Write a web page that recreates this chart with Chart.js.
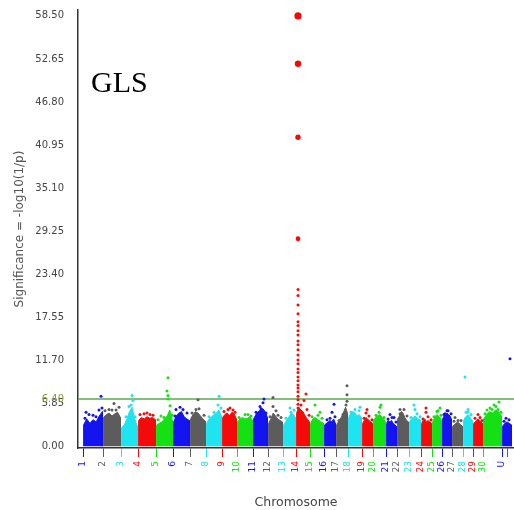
<!DOCTYPE html>
<html>
<head>
<meta charset="utf-8">
<script src="https://cdn.jsdelivr.net/npm/chart.js@4.4.0/dist/chart.umd.min.js"></script>
<style>
  html, body { margin: 0; padding: 0; background: #fff; }
  canvas { display: block; }
</style>
</head>
<body>
<canvas id="manhattan" width="514" height="510"></canvas>
<script>
// chromosomes and where each one starts on the genome axis (plot units)
const chromLabels = ['1','2','3','4','5','6','7','8','9','10','11','12','13','14','15','16','17','18','19','20',
                     '21','22','23','24','25','26','27','28','29','30','U',''];
const chromStart = [5, 25, 43, 60, 78, 95, 112, 128, 144, 159, 175, 190, 205, 218, 232, 246, 258, 270, 284, 295,
                    308, 319, 331, 343, 354, 364, 374, 385, 395, 405, 424, 429];
const genomeEnd = 436;
const chromEnd = 434;

// upper edge of the dense SNP cloud, left to right, for every chromosome (-log10 p)
const cloudTop = [
  [2.9, 3.7, 3.1, 3.6, 3.3, 4.1, 4.7],
  [3.9, 4.3, 4.5, 4.1, 4.4, 4.6, 3.9],
  [2.5, 2.9, 3.7, 4.7, 5.3, 3.7, 2.7],
  [3.5, 3.9, 3.7, 4.0, 3.8, 3.9, 3.6],
  [2.9, 3.1, 3.3, 3.7, 4.1, 4.9, 3.5],
  [3.3, 4.1, 4.5, 4.7, 4.0, 3.7, 3.5],
  [3.7, 4.3, 4.7, 4.5, 4.1, 3.7, 3.4],
  [3.1, 3.7, 4.0, 4.3, 4.5, 4.9, 4.1],
  [3.9, 4.3, 4.5, 4.1, 4.6, 4.4, 3.7],
  [3.3, 3.7, 3.9, 3.7, 3.8, 4.0, 3.5],
  [3.7, 4.3, 4.7, 4.9, 5.1, 4.7, 3.9],
  [3.1, 3.7, 4.5, 4.1, 3.7, 3.5, 3.3],
  [2.9, 3.3, 3.7, 4.1, 4.5, 4.3, 3.9],
  [4.5, 5.3, 4.9, 4.7, 4.1, 3.7, 3.3],
  [3.1, 3.7, 3.9, 3.7, 3.5, 3.3, 3.1],
  [2.9, 3.1, 3.3, 3.5, 3.3, 3.7, 3.1],
  [2.9, 3.3, 3.7, 4.1, 4.7, 5.3, 4.5],
  [3.9, 4.5, 4.7, 4.5, 4.1, 4.3, 3.9],
  [3.1, 3.5, 3.9, 3.7, 3.5, 3.3, 3.1],
  [3.5, 3.9, 4.1, 4.3, 4.1, 3.7, 3.3],
  [3.1, 3.5, 3.3, 3.5, 3.1, 2.9, 2.7],
  [3.7, 4.1, 4.7, 4.5, 3.9, 3.5, 3.3],
  [3.3, 3.7, 3.9, 4.1, 3.9, 3.7, 3.5],
  [3.1, 3.5, 3.7, 3.3, 3.5, 3.3, 3.1],
  [3.3, 3.7, 4.1, 4.3, 4.1, 3.9, 3.5],
  [3.7, 4.1, 4.3, 4.5, 4.3, 4.1, 3.7],
  [2.7, 2.9, 3.1, 3.3, 3.1, 2.9, 2.7],
  [3.5, 3.9, 4.1, 4.3, 4.1, 3.7, 3.5],
  [3.1, 3.3, 3.5, 3.7, 3.5, 3.3, 3.1],
  [3.7, 4.3, 4.7, 4.5, 4.9, 4.7, 4.1],
  [2.7, 3.1, 3.3, 3.1, 2.9]
];

// single SNPs standing above the cloud
const hitPos = [8, 15, 23, 36, 34, 54, 55, 53, 66, 72,
  90, 89, 90, 90, 83, 92, 98, 102, 120, 118, 141, 140, 150, 155, 167,
  186, 185, 182, 195, 195, 198, 212,
  220, 220, 220, 220, 220, 220, 220, 220, 220, 220, 220, 220, 220, 220, 220,
  220, 220, 220, 220, 220, 220, 220, 220, 220, 220, 220, 220, 220, 220,
  228, 226, 237, 242, 256, 254, 269, 269, 269, 282, 289, 288, 302, 303, 312, 316, 322,
  337, 336, 348, 348, 360, 362, 370, 367, 377, 380, 387, 390, 388, 400,
  421, 418, 412, 409, 432, 428,
  7, 11, 18, 21, 24, 27, 31, 38, 41, 48, 51, 57, 62, 69, 75, 80, 86, 94,
  97, 105, 109, 114, 121, 126, 131, 136, 143, 146, 152, 157, 161, 170, 173,
  178, 183, 188, 192, 200, 203, 208, 213, 216, 223, 229, 231, 234, 240, 244,
  249, 252, 257, 261, 265, 268, 273, 277, 281, 286, 291, 294, 298, 301, 306,
  310, 314, 318, 322, 326, 329, 333, 339, 342, 345, 350, 353, 356, 359, 363,
  366, 369, 373, 376, 383, 390, 393, 397, 402, 404, 407, 414, 416, 420, 423, 426, 431];
const hitVal = [4.6, 4.2, 6.8, 5.8, 4.9, 6.9, 6.2, 5.6, 4.4, 4.3,
  9.3, 7.5, 6.9, 6.4, 4.1, 5.5, 5.0, 5.3, 6.3, 5.0, 6.8, 5.6, 5.0, 4.9, 4.3,
  6.4, 5.9, 5.4, 6.6, 5.4, 4.8, 5.2,
  58.5, 52.0, 42.0, 28.2, 21.3, 20.5, 19.2, 18.0, 16.9, 16.4, 15.7, 15.1, 14.3, 13.8, 13.1,
  12.4, 11.7, 11.2, 10.5, 10.0, 9.4, 8.9, 8.3, 7.9, 7.4, 6.8, 6.3, 5.7, 5.2,
  7.1, 6.2, 5.6, 4.6, 5.7, 4.6, 8.2, 7.0, 6.1, 5.3, 5.0, 4.5, 5.3, 5.6, 4.3, 3.9, 5.0,
  5.0, 5.6, 5.2, 4.6, 4.8, 5.2, 4.8, 4.4, 3.9, 3.5, 9.4, 5.0, 4.6, 4.3,
  6.0, 5.4, 5.2, 4.9, 11.9, 3.8,
  3.8, 4.3, 4.0, 4.9, 5.2, 4.8, 5.0, 4.9, 5.3, 4.0, 5.4, 4.0, 4.3, 4.5, 4.2, 3.6, 3.9, 4.2,
  4.1, 5.0, 4.5, 4.5, 5.1, 4.2, 4.0, 4.6, 5.2, 4.7, 5.2, 4.6, 3.9, 4.3, 4.1,
  4.6, 5.1, 4.5, 4.0, 4.2, 3.9, 3.8, 4.6, 4.9, 5.6, 5.0, 4.2, 4.0, 4.2, 3.8,
  3.6, 3.8, 4.0, 3.5, 4.3, 5.6, 4.6, 5.0, 4.8, 3.8, 4.1, 3.6, 4.2, 4.6, 3.9,
  3.7, 3.9, 3.3, 4.4, 5.0, 4.1, 3.9, 4.4, 4.0, 3.7, 4.0, 3.6, 4.0, 4.7, 4.2,
  4.3, 4.8, 4.4, 3.4, 3.5, 4.6, 4.3, 3.8, 3.9, 3.5, 4.4, 5.0, 5.6, 5.0, 4.6, 3.4, 3.6];

const thresholdVal = 6.40;
const yTickVals = [0.00, 5.85, 11.70, 17.55, 23.40, 29.25, 35.10, 40.95, 46.80, 52.65, 58.50];

// kleuren per chromosoom, herhalen elke 5
const palette = ['#1414f0', '#5c5c5c', '#1ee4f0', '#f50a0a', '#14e014'];

function chromOf(pos) {
  let k = 0;
  for (let i = 0; i < cloudTop.length; i++) if (pos >= chromStart[i]) k = i;
  return k;
}

// one filled silhouette per chromosome
const cloudSets = cloudTop.map(function(top, i) {
  const s = chromStart[i] + 0.6;
  const e = (i + 1 < cloudTop.length ? chromStart[i + 1] : chromEnd) - 0.6;
  const step = (e - s) / (top.length - 1);
  const pts = [{x: s, y: 0}];
  top.forEach(function(v, k) { pts.push({x: s + k * step, y: v}); });
  pts.push({x: e, y: 0});
  return {
    data: pts,
    showLine: true,
    fill: 'origin',
    backgroundColor: palette[i % 5],
    borderColor: palette[i % 5],
    borderWidth: 1,
    pointRadius: 0,
    order: 2
  };
});

const hitColors = hitPos.map(p => palette[chromOf(p) % 5]);

const gls = {
  id: 'glsLabel',
  afterDraw(chart) {
    const ctx = chart.ctx;
    ctx.save();
    ctx.font = '30px "Liberation Serif"';
    ctx.fillStyle = '#000';
    ctx.textBaseline = 'alphabetic';
    ctx.fillText('GLS', 91, 92);
    ctx.restore();
  }
};

Chart.defaults.font.family = '"DejaVu Sans", sans-serif';

new Chart(document.getElementById('manhattan').getContext('2d'), {
  type: 'scatter',
  data: {
    datasets: [
      {
        data: hitPos.map((p, i) => ({x: p, y: hitVal[i]})),
        backgroundColor: hitColors,
        borderColor: hitColors,
        borderWidth: 0,
        pointRadius: function(c) {
          const v = c.raw ? c.raw.y : 0;
          return v > 55 ? 3.6 : v > 50 ? 3.2 : v > 40 ? 2.7 : v > 25 ? 2.4 : 1.5;
        },
        order: 0
      },
      {
        data: [{x: 0, y: thresholdVal}, {x: genomeEnd, y: thresholdVal}],
        showLine: true,
        borderColor: '#5aa84e',
        borderWidth: 1.5,
        pointRadius: 0,
        order: 1
      }
    ].concat(cloudSets)
  },
  options: {
    responsive: false,
    animation: false,
    layout: { autoPadding: false, padding: { top: 10, left: 0, right: 0, bottom: 0 } },
    plugins: { legend: { display: false }, tooltip: { enabled: false } },
    scales: {
      x: {
        type: 'linear',
        min: 0,
        max: genomeEnd,
        afterBuildTicks: s => { s.ticks = chromStart.map(v => ({value: v})); },
        afterFit: s => { s.height = 62; s.paddingLeft = 0; s.paddingRight = 0; },
        grid: {
          drawOnChartArea: false,
          tickLength: 9,
          lineWidth: 1,
          color: c => palette[(c.index || 0) % 5]
        },
        border: { display: true, color: '#333', width: 1.5 },
        ticks: {
          autoSkip: false,
          minRotation: 90,
          maxRotation: 90,
          padding: 4,
          font: { size: 9 },
          color: c => palette[c.index % 5],
          callback: (v, i) => chromLabels[i]
        },
        title: {
          display: true,
          text: 'Chromosome',
          color: '#444',
          font: { size: 12.5 },
          padding: { top: 3, bottom: 0 }
        }
      },
      y: {
        min: -0.25,
        max: 59.3,
        afterBuildTicks: s => {
          s.ticks = yTickVals.concat([thresholdVal]).sort((a, b) => a - b).map(v => ({value: v}));
        },
        afterFit: s => { s.width = 78; s.paddingTop = 0; s.paddingBottom = 0; },
        grid: { display: false, drawTicks: false },
        border: { display: true, color: '#333', width: 1.5 },
        ticks: {
          autoSkip: false,
          padding: 14,
          font: { size: 10 },
          color: c => (c.tick && c.tick.value === thresholdVal) ? '#86a12c' : '#444',
          callback: v => Number(v).toFixed(2)
        },
        title: {
          display: true,
          text: 'Significance = -log10(1/p)',
          color: '#555',
          font: { size: 12 },
          padding: { top: 13, bottom: 0 }
        }
      }
    }
  },
  plugins: [gls]
});
</script>
</body>
</html>
